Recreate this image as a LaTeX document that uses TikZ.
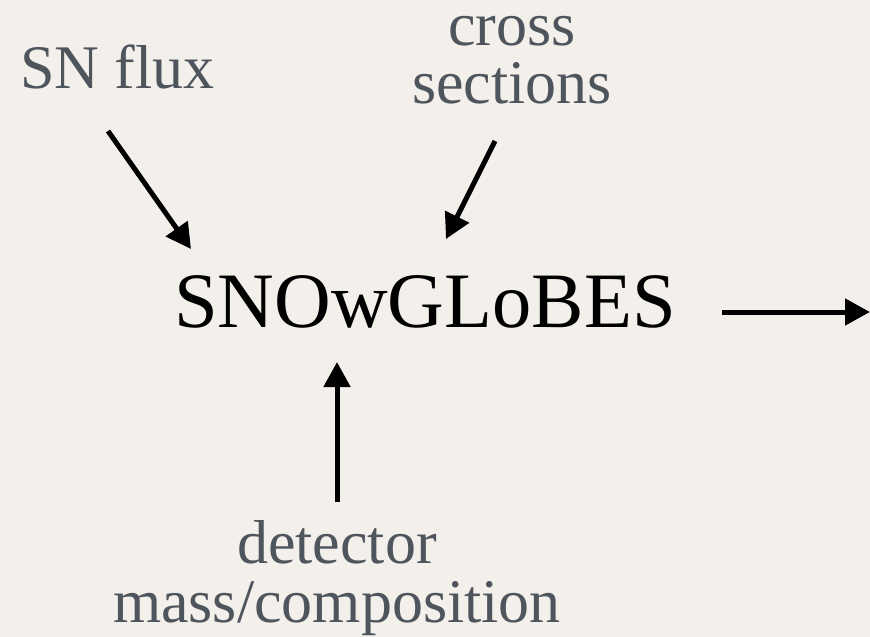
\documentclass[tikz,border=0pt]{standalone}
\usepackage{fontspec}
\setmainfont{Liberation Serif}
\usetikzlibrary{arrows.meta}
\definecolor{bgbeige}{HTML}{F3F0EB}
\definecolor{labelgray}{HTML}{4F555D}
\tikzset{
  lbl/.style={inner sep=0pt, text=labelgray, font=\fontsize{62}{59}\selectfont},
  mainlbl/.style={inner sep=0pt, text=black, font=\fontsize{78.5}{80}\selectfont},
  arr/.style={line width=5pt, -{Triangle[length=25pt,width=26pt]}}
}
\begin{document}
\begin{tikzpicture}[x=1pt,y=-1pt]
  \fill[bgbeige] (0,0) rectangle (870,637);
  \useasboundingbox (0,0) rectangle (870,637);
  \node[lbl, anchor=base west] (flux) at (20,88) {SN flux};
  \node[lbl, anchor=base] (cross) at (512,45) {cross};
  \node[lbl, anchor=base] (sect) at (512,103) {sections};
  \node[mainlbl, anchor=base west] (snow) at (174,327) {SNOwGLoBES};
  \node[lbl, anchor=base] (det) at (337,563) {detector};
  \node[lbl, anchor=base] (mass) at (337,622) {mass/composition};
  \coordinate (fluxs) at (108,131);
  \coordinate (fluxe) at (191,249);
  \coordinate (crosss) at (495,141);
  \coordinate (crosse) at (446,239);
  \coordinate (dets) at (337,502);
  \coordinate (dete) at (337,362);
  \coordinate (outs) at (722,312);
  \coordinate (oute) at (870,312);
  \draw[arr] (fluxs) -- (fluxe);
  \draw[arr] (crosss) -- (crosse);
  \draw[arr] (dets) -- (dete);
  \draw[arr] (outs) -- (oute);
\end{tikzpicture}
\end{document}
